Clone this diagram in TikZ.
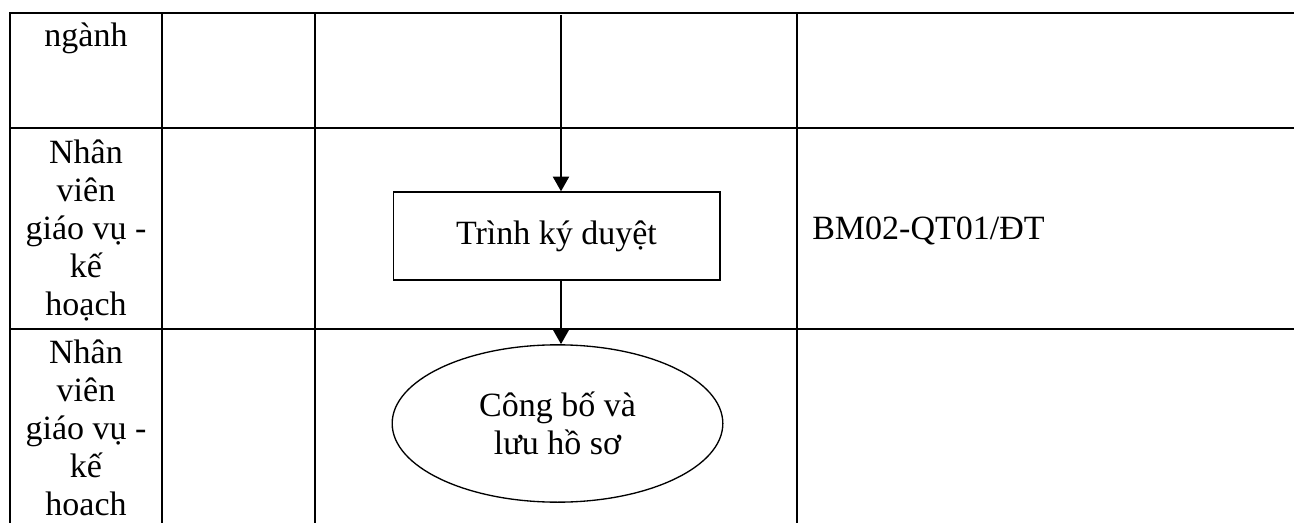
\documentclass[tikz,border=0pt]{standalone}
\usepackage{fontspec}
\setmainfont{Liberation Serif}
\usetikzlibrary{positioning, arrows.meta, shapes.geometric}

\begin{document}
\begin{tikzpicture}[
  x=0.75pt, y=-0.75pt,
  font=\fontsize{25.5}{28.5}\selectfont,
  grid/.style={line width=2.2pt},
  role/.style={align=center, anchor=north, inner sep=0pt},
  stepbox/.style={draw, line width=1pt, minimum width=245pt,
                  minimum height=66pt, inner sep=0pt},
  endell/.style={draw, ellipse, line width=1pt, minimum width=248pt,
                 minimum height=118pt, inner sep=0pt, align=center},
  arr/.style={-{Triangle[length=11pt, width=12pt]}, line width=1.5pt}
]
\useasboundingbox (0,0) rectangle (1294,523);

%% --- Khung bang ---
\draw[grid] (10,523) -- (10,13) -- (1294,13);
\draw[grid] (10,128) -- (1294,128);
\draw[grid] (10,329) -- (1294,329);
\foreach \cx in {162, 315, 797}
  \draw[grid] (\cx,13) -- (\cx,523);

%% --- Cot thuc hien ---
\node[role] (r1) at (86,23) {ng\`anh};
\node[role] (r2) at (86,140) {Nh\^an\\vi\^en\\gi\'ao vụ -\\kế\\hoạch};
\node[role] (r3) at (86,340) {Nh\^an\\vi\^en\\gi\'ao vụ -\\kế\\hoach};

%% --- Luu do ---
\coordinate (top) at (561,15);
\node[stepbox] (trinh) at (556.5,236) {Tr\`inh k\'y duyệt};
\node[endell] (congbo) at (557.5,423.5) {C\^ong bố v\`a\\lưu hồ sơ};

\draw[arr] (top) -- (top |- trinh.north);
\draw[arr] (trinh.south -| top) -- (top |- congbo.north);

%% --- Bieu mau ---
\node[anchor=base west, inner sep=0pt] (bm) at (812,240) {BM02-QT01/ĐT};

\end{tikzpicture}
\end{document}
